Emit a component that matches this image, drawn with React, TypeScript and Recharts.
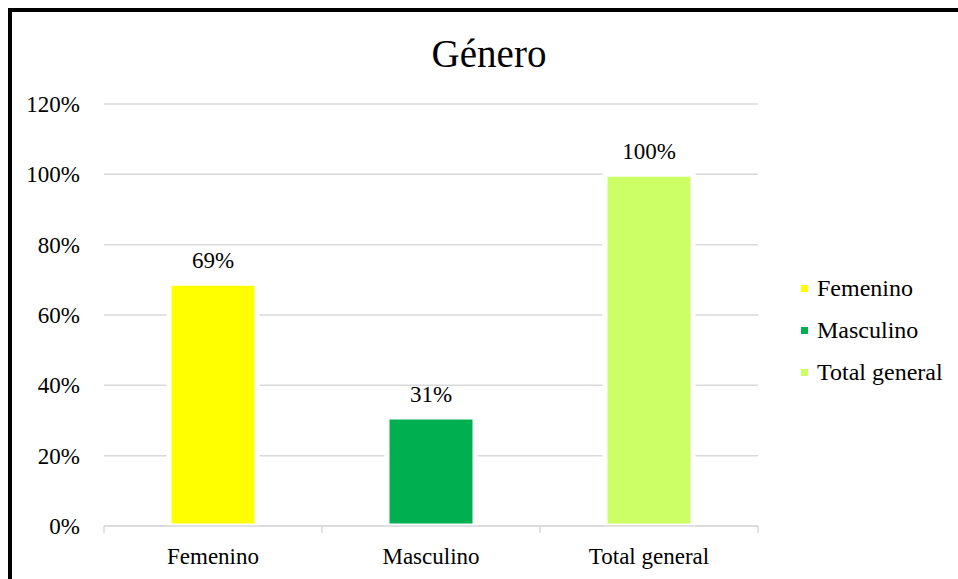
import { BarChart, Bar, Cell, XAxis, YAxis, CartesianGrid, LabelList } from "recharts";

const categories = ["Femenino", "Masculino", "Total general"];
const shares = [0.69, 0.31, 1.0];
const barColors = ["#ffff00", "#00b050", "#ccff66"];
const yTicks = [0, 0.2, 0.4, 0.6, 0.8, 1.0, 1.2];

const data = categories.map((name, i) => ({ name, value: shares[i] }));

const W = 958;
const H = 579;
const LEFT = 104;
const RIGHT = 200;
const FS = 23;
const font = "'Liberation Serif', 'Times New Roman', serif";
const pct = (v: number) => `${Math.round(v * 100)}%`;

const band = (W - LEFT - RIGHT) / categories.length;

function CategoryTick(props: any) {
    const { x, y, payload, index } = props;
    const top = y - 8;
    return (
        <g>
            <line x1={x - band / 2} x2={x - band / 2} y1={top} y2={top + 7} stroke="#d9d9d9" strokeWidth={1.5} />
            {index === categories.length - 1 && (
                <line x1={x + band / 2} x2={x + band / 2} y1={top} y2={top + 7} stroke="#d9d9d9" strokeWidth={1.5} />
            )}
            <text x={x} y={y + 30} textAnchor="middle" fontSize={FS} fontFamily={font} fill="#000">
                {payload.value}
            </text>
        </g>
    );
}

function ValueLabel(props: any) {
    const { x, y, width, value } = props;
    return (
        <text x={x + width / 2} y={y - 15} textAnchor="middle" fontSize={FS} fontFamily={font} fill="#000">
            {pct(value)}
        </text>
    );
}

function LegendBox() {
    return (
        <div style={{ position: "absolute", left: 801, top: 267, fontFamily: font, fontSize: FS + 1, color: "#000" }}>
            {categories.map((c, i) => (
                <div key={c} style={{ display: "flex", alignItems: "center", height: 42 }}>
                    <span style={{ width: 7, height: 7, background: barColors[i], marginRight: 9, marginTop: 1 }} />
                    <span>{c}</span>
                </div>
            ))}
        </div>
    );
}

export default function App() {
    return (
        <div style={{ position: "relative", width: W, height: H, overflow: "hidden", background: "#fff" }}>
            <style>{`body{margin:0;overflow:hidden}`}</style>
            <div
                style={{
                    position: "absolute",
                    left: 8,
                    top: 8,
                    width: W,
                    height: H,
                    borderLeft: "4px solid #000",
                    borderTop: "4px solid #000",
                }}
            />
            <div
                style={{
                    position: "absolute",
                    left: 0,
                    width: W - 20,
                    top: 29,
                    textAlign: "center",
                    paddingLeft: 20,
                    fontFamily: font,
                    fontSize: 39,
                    lineHeight: "50px",
                    color: "#000",
                }}
            >
                Género
            </div>
            <div style={{ position: "absolute", left: 0, top: 0 }}>
                <BarChart width={W} height={H} data={data} margin={{ top: 104, right: RIGHT, left: 0, bottom: 0 }}>
                    <CartesianGrid vertical={false} stroke="#d9d9d9" strokeWidth={1.5} />
                    <XAxis
                        dataKey="name"
                        height={53}
                        axisLine={{ stroke: "#d9d9d9", strokeWidth: 1.5 }}
                        tickLine={false}
                        tick={<CategoryTick />}
                    />
                    <YAxis
                        width={LEFT}
                        domain={[0, 1.2]}
                        ticks={yTicks}
                        tickFormatter={pct}
                        axisLine={false}
                        tickLine={false}
                        tickSize={0}
                        tickMargin={24}
                        tick={{ fontSize: FS, fontFamily: font, fill: "#000" }}
                    />
                    <Bar dataKey="value" barSize={88} stroke="#fff" strokeWidth={5} isAnimationActive={false}>
                        {data.map((d, i) => (
                            <Cell key={d.name} fill={barColors[i]} stroke="#fff" strokeWidth={5} />
                        ))}
                        <LabelList dataKey="value" content={<ValueLabel />} />
                    </Bar>
                </BarChart>
            </div>
            <LegendBox />
        </div>
    );
}
